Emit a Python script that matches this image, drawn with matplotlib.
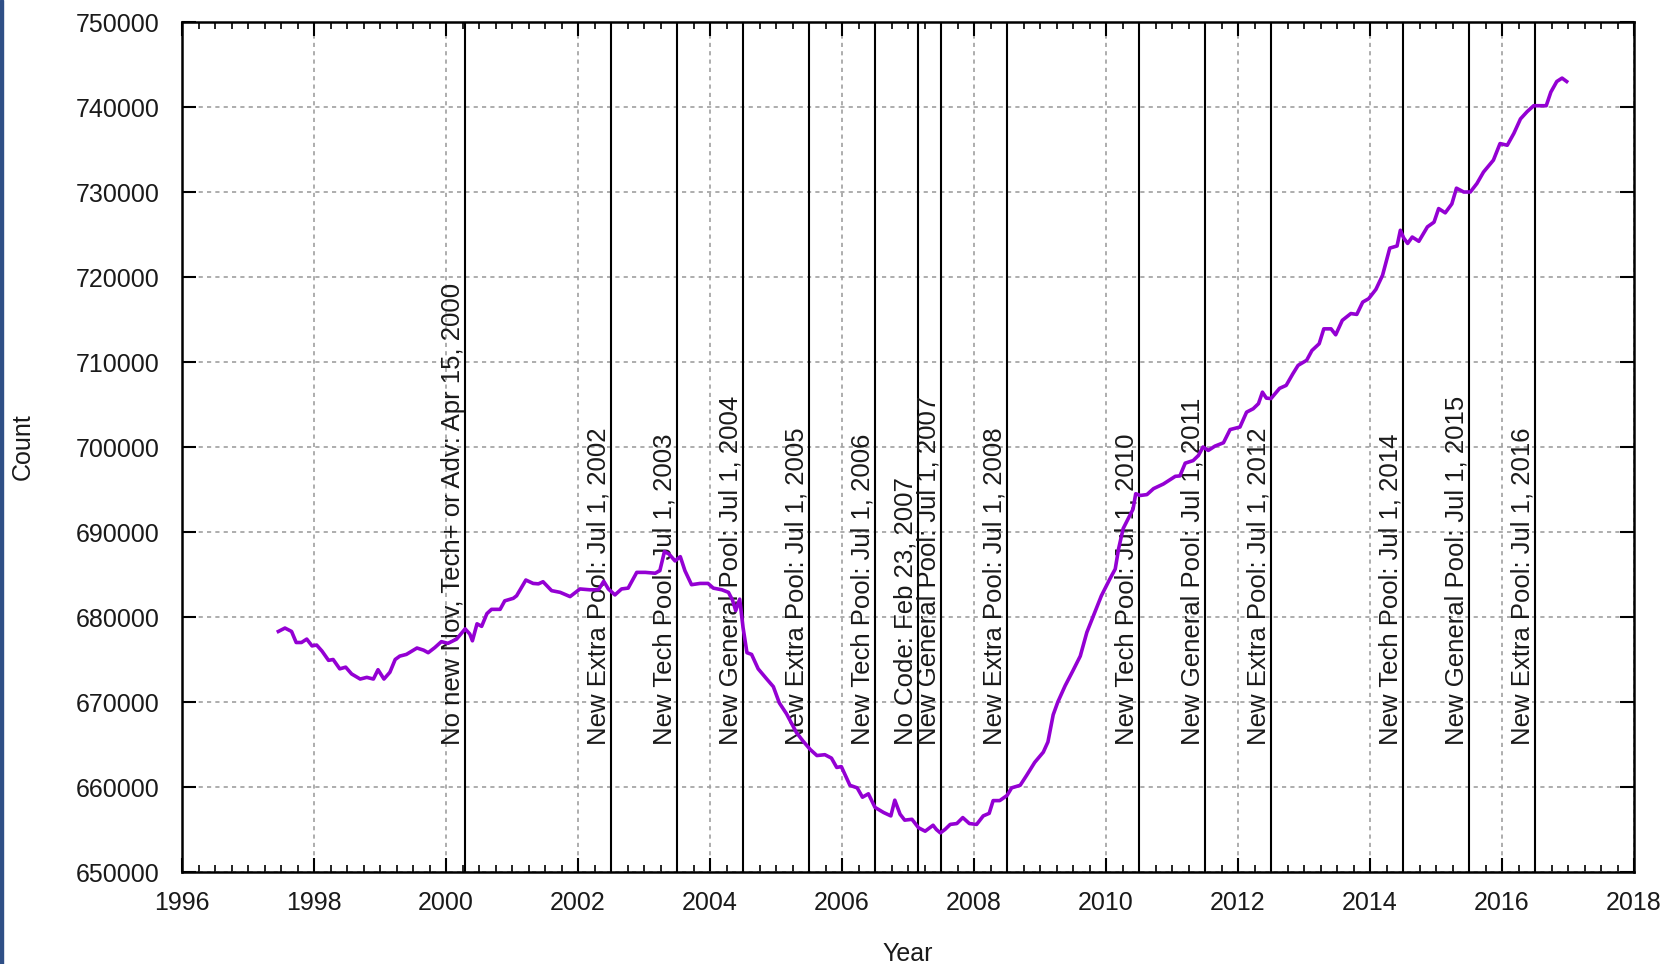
import datetime
import matplotlib
matplotlib.use("Agg")
import matplotlib.pyplot as plt
from matplotlib.patches import Rectangle
from matplotlib.ticker import MultipleLocator

# weekly count (decimal year, count)
years = [
    1997.46, 1997.56, 1997.66, 1997.73, 1997.81, 1997.89, 1997.97, 1998.04, 1998.12, 1998.22,
    1998.29, 1998.39, 1998.48, 1998.57, 1998.70, 1998.80, 1998.90, 1998.97, 1999.06, 1999.15,
    1999.23, 1999.30, 1999.40, 1999.56, 1999.66, 1999.73, 1999.83, 1999.93, 2000.03, 2000.16,
    2000.29, 2000.36, 2000.40, 2000.47, 2000.54, 2000.62, 2000.69, 2000.82, 2000.89, 2001.02,
    2001.07, 2001.21, 2001.32, 2001.40, 2001.47, 2001.60, 2001.73, 2001.88, 2002.03, 2002.18,
    2002.31, 2002.39, 2002.46, 2002.56, 2002.66, 2002.76, 2002.89, 2003.02, 2003.17, 2003.24,
    2003.31, 2003.38, 2003.47, 2003.55, 2003.62, 2003.72, 2003.85, 2003.97, 2004.05, 2004.18,
    2004.28, 2004.34, 2004.39, 2004.45, 2004.50, 2004.56, 2004.63, 2004.73, 2004.86, 2004.96,
    2005.05, 2005.16, 2005.31, 2005.41, 2005.52, 2005.62, 2005.74, 2005.84, 2005.92, 2005.99,
    2006.12, 2006.23, 2006.31, 2006.40, 2006.50, 2006.63, 2006.74, 2006.80, 2006.88, 2006.95,
    2007.06, 2007.16, 2007.26, 2007.38, 2007.43, 2007.49, 2007.56, 2007.64, 2007.74, 2007.83,
    2007.93, 2008.04, 2008.14, 2008.23, 2008.29, 2008.39, 2008.50, 2008.57, 2008.70, 2008.80,
    2008.92, 2009.05, 2009.12, 2009.20, 2009.27, 2009.38, 2009.50, 2009.61, 2009.71, 2009.81,
    2009.93, 2010.06, 2010.14, 2010.19, 2010.26, 2010.36, 2010.41, 2010.45, 2010.52, 2010.62,
    2010.72, 2010.87, 2011.05, 2011.12, 2011.20, 2011.32, 2011.40, 2011.47, 2011.55, 2011.65,
    2011.78, 2011.88, 2012.03, 2012.13, 2012.23, 2012.31, 2012.37, 2012.43, 2012.50, 2012.63,
    2012.73, 2012.83, 2012.91, 2013.04, 2013.12, 2013.23, 2013.30, 2013.41, 2013.48, 2013.58,
    2013.71, 2013.80, 2013.89, 2013.98, 2014.09, 2014.19, 2014.25, 2014.30, 2014.41, 2014.46,
    2014.51, 2014.57, 2014.64, 2014.74, 2014.87, 2014.97, 2015.04, 2015.14, 2015.24, 2015.31,
    2015.42, 2015.52, 2015.62, 2015.72, 2015.87, 2015.97, 2016.08, 2016.18, 2016.28, 2016.38,
    2016.48, 2016.67, 2016.74, 2016.83, 2016.91, 2016.98,
]
counts = [
    678300, 678700, 678300, 677000, 677000, 677400, 676600, 676700, 676000, 674900,
    675000, 673900, 674100, 673300, 672700, 672900, 672700, 673800, 672700, 673500,
    675000, 675400, 675600, 676350, 676100, 675800, 676400, 677100, 676900, 677400,
    678600, 678000, 677200, 679200, 678900, 680400, 680900, 680900, 681900, 682200,
    682500, 684350, 683950, 683900, 684150, 683100, 682900, 682400, 683300, 683200,
    683200, 684200, 683300, 682600, 683300, 683400, 685250, 685250, 685150, 685450,
    687700, 687400, 686600, 687100, 685450, 683800, 683950, 683950, 683400, 683200,
    682900, 682000, 680750, 682100, 678800, 675800, 675600, 673900, 672700, 671800,
    669900, 668600, 666400, 665400, 664400, 663700, 663800, 663400, 662300, 662400,
    660200, 659900, 658800, 659200, 657600, 657000, 656600, 658450, 656800, 656100,
    656200, 655200, 654800, 655500, 655000, 654600, 655000, 655600, 655700, 656400,
    655700, 655600, 656600, 656900, 658400, 658400, 659000, 659900, 660200, 661400,
    662900, 664100, 665300, 668500, 670000, 671900, 673700, 675400, 678200, 680150,
    682500, 684500, 685650, 688000, 690400, 691950, 692700, 694500, 694300, 694400,
    695100, 695650, 696550, 696600, 698100, 698400, 699000, 700000, 699600, 700100,
    700500, 702050, 702350, 704100, 704500, 705100, 706450, 705750, 705700, 706900,
    707250, 708600, 709600, 710200, 711350, 712150, 713900, 713900, 713200, 714900,
    715700, 715600, 717050, 717450, 718550, 720200, 721950, 723400, 723650, 725500,
    724600, 723950, 724700, 724200, 725900, 726450, 728050, 727550, 728600, 730450,
    730000, 730000, 731000, 732350, 733750, 735700, 735500, 736900, 738600, 739450,
    740150, 740150, 741750, 743000, 743400, 743000,
]

# events marked with vertical lines
event_dates = [
    (2000, 4, 15), (2002, 7, 1), (2003, 7, 1), (2004, 7, 1), (2005, 7, 1),
    (2006, 7, 1), (2007, 2, 23), (2007, 7, 1), (2008, 7, 1), (2010, 7, 1),
    (2011, 7, 1), (2012, 7, 1), (2014, 7, 1), (2015, 7, 1), (2016, 7, 1),
]
event_labels = [
    "No new Nov, Tech+ or Adv: Apr 15, 2000",
    "New Extra Pool: Jul 1, 2002",
    "New Tech Pool: Jul 1, 2003",
    "New General Pool: Jul 1, 2004",
    "New Extra Pool: Jul 1, 2005",
    "New Tech Pool: Jul 1, 2006",
    "No Code: Feb 23, 2007",
    "New General Pool: Jul 1, 2007",
    "New Extra Pool: Jul 1, 2008",
    "New Tech Pool: Jul 1, 2010",
    "New General Pool: Jul 1, 2011",
    "New Extra Pool: Jul 1, 2012",
    "New Tech Pool: Jul 1, 2014",
    "New General Pool: Jul 1, 2015",
    "New Extra Pool: Jul 1, 2016",
]
label_y = 665000


def decimal_year(y, m, d):
    # fraction of the year elapsed at the given date
    start = datetime.date(y, 1, 1)
    length = (datetime.date(y + 1, 1, 1) - start).days
    return y + (datetime.date(y, m, d) - start).days / length


def main():
    plt.rcParams["font.family"] = ["Liberation Sans", "DejaVu Sans"]
    plt.rcParams["font.size"] = 18
    text_color = "#1a1a1a"

    fig = plt.figure(figsize=(16.72, 9.64), dpi=100)
    axis = fig.subplots()
    fig.subplots_adjust(left=182 / 1672, right=1634 / 1672, top=1 - 22 / 964, bottom=1 - 872 / 964)

    # thin dark strip on the left edge of the screenshot
    fig.patches.append(Rectangle((0, 0), 3 / 1672, 1, transform=fig.transFigure,
                                 color="#2f4f86", zorder=10))

    # vertical event lines with rotated labels on their left side
    for date, text in zip(event_dates, event_labels):
        x = decimal_year(*date)
        axis.axvline(x, color="black", linewidth=1.5, zorder=2)
        axis.text(x, label_y, text, rotation=90, ha="right", va="bottom",
                  fontsize=18.5, color=text_color, zorder=3)

    # the count line
    axis.plot(years, counts, color="#9400d3", linewidth=2.6, zorder=4)

    axis.set_xlim(1996, 2018)
    axis.set_ylim(650000, 750000)
    axis.xaxis.set_major_locator(MultipleLocator(2))
    axis.xaxis.set_minor_locator(MultipleLocator(0.25))
    axis.yaxis.set_major_locator(MultipleLocator(10000))
    axis.xaxis.set_major_formatter(matplotlib.ticker.FormatStrFormatter("%d"))
    axis.yaxis.set_major_formatter(matplotlib.ticker.FormatStrFormatter("%d"))

    # gnuplot style ticks: inward and mirrored
    axis.tick_params(which="major", direction="in", length=10, width=1.5,
                     top=True, right=True, labelsize=18, labelcolor=text_color)
    axis.tick_params(which="minor", direction="in", length=5, width=1.2, top=True)
    axis.tick_params(axis="x", which="major", pad=14)
    axis.tick_params(axis="y", which="major", pad=16)
    for spine in axis.spines.values():
        spine.set_linewidth(1.8)

    axis.grid(True, which="major", color="#a0a0a0", linestyle=(0, (2.5, 2.5)), linewidth=1.2)
    axis.set_axisbelow(True)

    axis.set_xlabel("Year", color=text_color)
    axis.set_ylabel("Count", color=text_color)
    axis.xaxis.set_label_coords(0.5, (872 - 954) / 850)
    axis.xaxis.label.set_va("center")
    axis.yaxis.set_label_coords((23 - 182) / 1452, 0.5)
    axis.yaxis.label.set_va("center")

    fig.savefig("out.png", dpi=100)


if __name__ == "__main__":
    main()
